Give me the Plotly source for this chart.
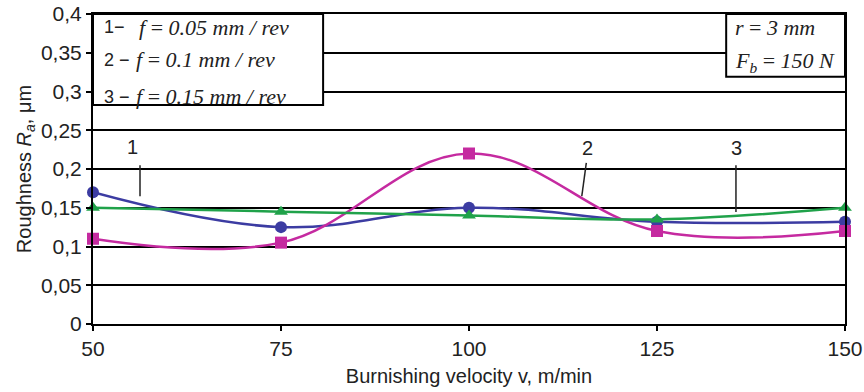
import plotly.graph_objects as go

# Burnishing velocity, m/min
velocity = [50, 75, 100, 125, 150]

# Surface roughness Ra (µm) for three feeds
ra_f005 = [0.170, 0.125, 0.150, 0.132, 0.132]
ra_f010 = [0.110, 0.105, 0.220, 0.120, 0.120]
ra_f015 = [0.150, 0.145, 0.140, 0.135, 0.150]

y_ticks = [0, 0.05, 0.1, 0.15, 0.2, 0.25, 0.3, 0.35, 0.4]
x_ticks = [50, 75, 100, 125, 150]

BLUE = "#3c3ca2"
MAGENTA = "#c52aa0"
GREEN = "#20a24a"
SANS = "Liberation Sans, Arial, sans-serif"
SERIF = "Liberation Serif, Times New Roman, serif"

fig = go.Figure()

series = [
    (ra_f005, BLUE, "circle", 12),
    (ra_f010, MAGENTA, "square", 12),
    (ra_f015, GREEN, "triangle-up", 12),
]
for vals, col, sym, size in series:
    fig.add_trace(go.Scatter(
        x=velocity, y=vals, mode="lines+markers",
        line=dict(color=col, width=2.5, shape="spline", smoothing=1.1),
        marker=dict(color=col, symbol=sym, size=size),
        showlegend=False, cliponaxis=False,
    ))

# Legend and parameter boxes
fig.add_shape(type="rect", x0=50, x1=80.6, y0=0.2826, y1=0.4, xref="x", yref="y",
              line=dict(color="black", width=2), fillcolor="white", layer="above")
fig.add_shape(type="rect", x0=134.2, x1=150, y0=0.319, y1=0.4, xref="x", yref="y",
              line=dict(color="black", width=2), fillcolor="white", layer="above")

legend_lines = [
    (0.383, "1−", "<i>f</i> = <i>0.05 mm / rev</i>", 55.9),
    (0.341, "2 −", "<i>f</i> = <i>0.1 mm / rev</i>", 55.5),
    (0.293, "3 −", "<i>f</i> = <i>0.15 mm / rev</i>", 55.5),
]
for yv, num, body, bx in legend_lines:
    fig.add_annotation(x=51.2, y=yv, text=num, xref="x", yref="y", showarrow=False,
                       xanchor="left", yanchor="middle",
                       font=dict(size=18, color="#222", family=SANS))
    fig.add_annotation(x=bx, y=yv, text=body, xref="x", yref="y", showarrow=False,
                       xanchor="left", yanchor="middle",
                       font=dict(size=22, color="#222", family=SERIF))

fig.add_annotation(x=135.1, y=0.383, text="<i>r</i> = <i>3 mm</i>", xref="x", yref="y",
                   showarrow=False, xanchor="left", yanchor="middle",
                   font=dict(size=22, color="#222", family=SERIF))
fig.add_annotation(x=135.1, y=0.338, text="<i>F<sub>b</sub></i> = <i>150 N</i>", xref="x", yref="y",
                   showarrow=False, xanchor="left", yanchor="middle",
                   font=dict(size=22, color="#222", family=SERIF))

# Curve labels with leader lines
labels = [
    ("1", 55.3, 0.229, 56.25, 0.205, 56.25, 0.165),
    ("2", 115.7, 0.227, 115.6, 0.208, 115.0, 0.165),
    ("3", 135.6, 0.227, 135.5, 0.205, 135.5, 0.1445),
]
for txt, lx, ly, ax0, ay0, ax1, ay1 in labels:
    fig.add_annotation(x=lx, y=ly, text=txt, xref="x", yref="y", showarrow=False,
                       font=dict(size=20, color="#222", family=SANS))
    fig.add_shape(type="line", x0=ax0, y0=ay0, x1=ax1, y1=ay1, xref="x", yref="y",
                  line=dict(color="#222", width=1.5))

fig.update_layout(
    width=864, height=392,
    margin=dict(l=93, r=19, t=14, b=68),
    paper_bgcolor="white", plot_bgcolor="white",
    separators=",.",
    font=dict(family=SANS, size=19, color="#222"),
    xaxis=dict(
        range=[50, 150], tickvals=x_ticks, showgrid=False, zeroline=False,
        showline=True, linecolor="black", linewidth=2, mirror=True,
        ticks="outside", ticklen=5, tickwidth=2, tickcolor="black",
        title=dict(text="Burnishing velocity v, m/min", standoff=10, font=dict(size=20)),
        tickfont=dict(size=21), automargin=False,
    ),
    yaxis=dict(
        range=[0, 0.4], tickvals=y_ticks, showgrid=True, gridcolor="black", gridwidth=2,
        zeroline=False, showline=True, linecolor="black", linewidth=2, mirror=True,
        ticks="outside", ticklen=5, tickwidth=2, tickcolor="black",
        title=dict(text="Roughness <i>R<sub>a</sub></i>, μm", standoff=4, font=dict(size=20)),
        tickfont=dict(size=21), automargin=False,
    ),
)

fig.write_html("out.html")
